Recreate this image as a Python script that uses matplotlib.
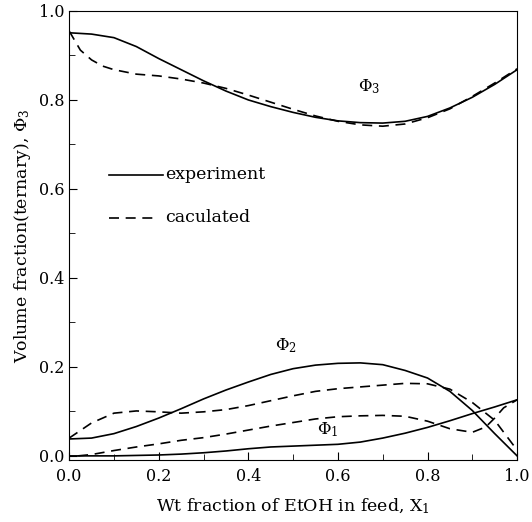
import matplotlib.pyplot as plt
from matplotlib.ticker import MultipleLocator

plt.rcParams['font.family'] = 'DejaVu Serif'
plt.rcParams['mathtext.fontset'] = 'dejavuserif'

# wt fraction of EtOH in feed
x = [0.0, 0.05, 0.1, 0.15, 0.2, 0.25, 0.3, 0.35, 0.4, 0.45, 0.5,
     0.55, 0.6, 0.65, 0.7, 0.75, 0.8, 0.85, 0.9, 0.95, 1.0]

phi3_exp = [0.951, 0.948, 0.940, 0.920, 0.893, 0.868, 0.843, 0.820, 0.800, 0.785, 0.772,
            0.761, 0.753, 0.749, 0.748, 0.752, 0.763, 0.782, 0.806, 0.835, 0.868]
x_phi3_calc = [0.0, 0.025, 0.05, 0.075, 0.1, 0.15, 0.2, 0.25, 0.3, 0.35, 0.4, 0.45, 0.5,
               0.55, 0.6, 0.65, 0.7, 0.75, 0.8, 0.85, 0.9, 0.95, 1.0]
phi3_calc = [0.955, 0.912, 0.890, 0.876, 0.868, 0.858, 0.854, 0.847, 0.838, 0.826, 0.811,
             0.795, 0.779, 0.764, 0.752, 0.744, 0.741, 0.746, 0.760, 0.780, 0.808, 0.838, 0.870]

phi2_exp = [0.038, 0.040, 0.050, 0.066, 0.085, 0.106, 0.128, 0.148, 0.166, 0.183, 0.196,
            0.204, 0.208, 0.209, 0.205, 0.192, 0.175, 0.145, 0.102, 0.050, 0.0]
phi2_calc = [0.040, 0.074, 0.096, 0.101, 0.099, 0.096, 0.099, 0.104, 0.113, 0.124, 0.135,
             0.145, 0.151, 0.155, 0.159, 0.163, 0.162, 0.150, 0.120, 0.080, 0.013]

phi1_exp = [0.0, 0.0, 0.0, 0.001, 0.002, 0.004, 0.007, 0.011, 0.016, 0.020, 0.022,
            0.024, 0.026, 0.031, 0.040, 0.051, 0.064, 0.079, 0.095, 0.110, 0.126]
x_phi1_calc = [0.02, 0.05, 0.1, 0.15, 0.2, 0.25, 0.3, 0.35, 0.4, 0.45, 0.5, 0.55, 0.6,
               0.65, 0.7, 0.75, 0.8, 0.85, 0.9, 0.93, 0.95, 0.97, 1.0]
phi1_calc = [0.0, 0.003, 0.012, 0.020, 0.027, 0.035, 0.041, 0.049, 0.058, 0.067, 0.075,
             0.083, 0.088, 0.090, 0.091, 0.089, 0.078, 0.061, 0.053, 0.065, 0.085, 0.108, 0.126]

fig = plt.figure(figsize=(5.32, 5.22), dpi=100)
ax = fig.add_axes([0.13, 0.119, 0.842, 0.86])

lw = 1.2
dash = (6, 4)
ax.plot(x, phi3_exp, color='black', linewidth=lw)
ax.plot(x_phi3_calc, phi3_calc, color='black', linewidth=lw, linestyle='--', dashes=dash)
ax.plot(x, phi2_exp, color='black', linewidth=lw)
ax.plot(x, phi2_calc, color='black', linewidth=lw, linestyle='--', dashes=dash)
ax.plot(x, phi1_exp, color='black', linewidth=lw)
ax.plot(x_phi1_calc, phi1_calc, color='black', linewidth=lw, linestyle='--', dashes=dash)

# legend drawn by hand like the original
ax.plot([0.09, 0.21], [0.632, 0.632], color='black', linewidth=lw)
ax.text(0.215, 0.632, 'experiment', fontsize=12.5, va='center')
ax.plot([0.09, 0.20], [0.535, 0.535], color='black', linewidth=lw, linestyle='--', dashes=dash)
ax.text(0.215, 0.535, 'caculated', fontsize=12.5, va='center')

ax.text(0.67, 0.83, r'$\Phi_3$', fontsize=12, ha='center', va='center')
ax.text(0.485, 0.247, r'$\Phi_2$', fontsize=12, ha='center', va='center')
ax.text(0.577, 0.058, r'$\Phi_1$', fontsize=12, ha='center', va='center')

ax.set_xlim(0, 1.0)
ax.set_ylim(-0.009, 1.0)
ax.xaxis.set_minor_locator(MultipleLocator(0.1))
ax.yaxis.set_minor_locator(MultipleLocator(0.1))
ax.set_xticks([0, 0.2, 0.4, 0.6, 0.8, 1.0])
ax.set_xticklabels(['0.0', '0.2', '0.4', '0.6', '0.8', '1.0'])
ax.set_yticks([0, 0.2, 0.4, 0.6, 0.8, 1.0])
ax.set_yticklabels(['0.0', '0.2', '0.4', '0.6', '0.8', '1.0'])
ax.tick_params(which='both', direction='in', labelsize=11.5)
ax.tick_params(which='major', length=6)
ax.tick_params(which='minor', length=4)
ax.tick_params(axis='x', pad=6)

ax.set_xlabel(r'Wt fraction of EtOH in feed, X$_1$', fontsize=12.5, labelpad=8)
ax.set_ylabel(r'Volume fraction(ternary), $\Phi_3$', fontsize=12.5, labelpad=4)

fig.savefig('out.png', dpi=100)
